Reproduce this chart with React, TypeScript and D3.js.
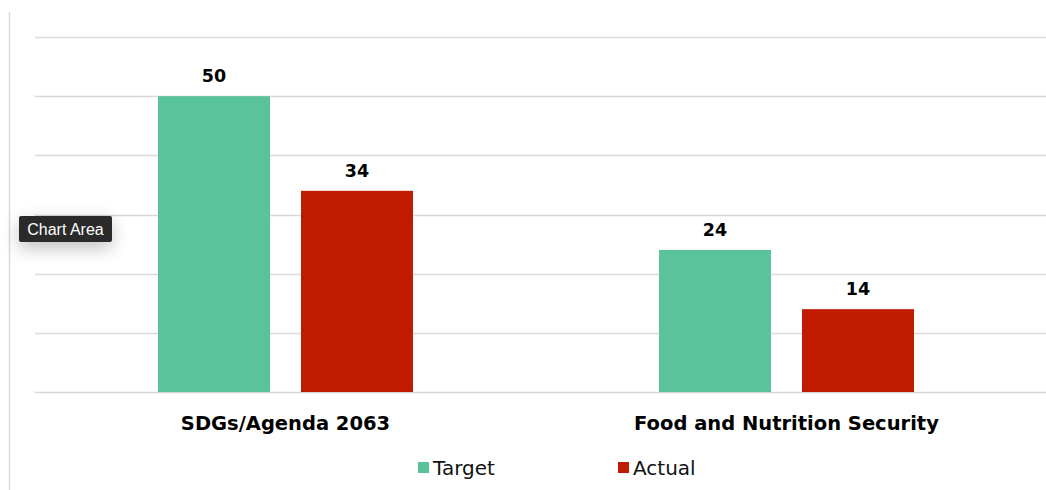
import React from "react";
import * as d3 from "d3";

const categories = ["SDGs/Agenda 2063", "Food and Nutrition Security"];
const seriesNames = ["Target", "Actual"];
const targetValues = [50, 24];
const actualValues = [34, 14];
const yTicks = [0, 10, 20, 30, 40, 50, 60];
const colors = ["#5BC39B", "#C01A00"];

const W = 1046;
const H = 490;
const plotLeft = 35;
const plotRight = 1037;
const plotTop = 37;
const plotBottom = 392;

export default function App() {
  const x0 = d3.scaleBand<string>().domain(categories).range([plotLeft, plotRight]).paddingInner(0).paddingOuter(0);
  const y = d3.scaleLinear().domain([0, 60]).range([plotBottom, plotTop]);
  const bw = 112;
  const gap = 31;
  const series = [targetValues, actualValues];
  const font = "'DejaVu Sans', sans-serif";

  return (
    <svg width={W} height={H} style={{ position: "absolute", left: 0, top: 0, background: "#fff" }}>
      <defs>
        <filter id="sh" x="-100%" y="-200%" width="300%" height="500%">
          <feGaussianBlur in="SourceAlpha" stdDeviation="9" />
          <feComponentTransfer>
            <feFuncA type="linear" slope="0.25" />
          </feComponentTransfer>
          <feOffset dx="0" dy="6" />
          <feMerge>
            <feMergeNode />
            <feMergeNode in="SourceGraphic" />
          </feMerge>
        </filter>
      </defs>
      <line x1={9.5} x2={9.5} y1={12} y2={H} stroke="#d9d9d9" strokeWidth={1.5} />
      {yTicks.map((t) => (
        <line key={t} x1={plotLeft} x2={W} y1={Math.round(y(t)) + 0.5} y2={Math.round(y(t)) + 0.5} stroke="#d9d9d9" strokeWidth={1.5} />
      ))}
      {categories.map((c, ci) => {
        const cx = (x0(c) as number) + x0.bandwidth() / 2;
        return (
          <g key={c}>
            {series.map((vals, si) => {
              const bx = si === 0 ? cx - gap / 2 - bw : cx + gap / 2;
              const v = vals[ci];
              return (
                <g key={si}>
                  <rect x={bx} y={y(v)} width={bw} height={plotBottom - y(v)} fill={colors[si]} />
                  <text x={bx + bw / 2} y={y(v) - 14} textAnchor="middle" fontFamily={font} fontWeight="bold" fontSize={17.5} fill="#000">
                    {v}
                  </text>
                </g>
              );
            })}
            <text x={cx} y={430} textAnchor="middle" fontFamily={font} fontWeight="bold" fontSize={19.5} fill="#000">
              {c}
            </text>
          </g>
        );
      })}
      {seriesNames.map((s, i) => {
        const lx = i === 0 ? 418 : 618;
        return (
          <g key={s}>
            <rect x={lx} y={462} width={11} height={11} fill={colors[i]} />
            <text x={lx + 15} y={474.5} fontFamily={font} fontSize={20} fill="#111">
              {s}
            </text>
          </g>
        );
      })}
      <g filter="url(#sh)">
        <rect x={19} y={216} width={93} height={26} rx={2} fill="#2b2b2b" />
      </g>
      <text x={65.5} y={235} textAnchor="middle" fontFamily="'Liberation Sans', Arial, sans-serif" fontSize={16} fill="#fff">
        Chart Area
      </text>
    </svg>
  );
}
